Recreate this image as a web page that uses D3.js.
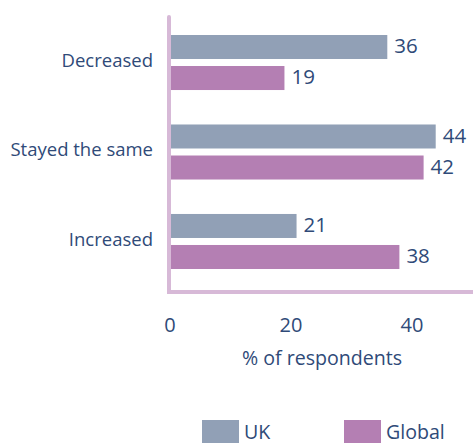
<!DOCTYPE html>
<html>
<head>
<meta charset="utf-8">
<script src="https://cdn.jsdelivr.net/npm/d3@7"></script>
<style>
  html, body { margin: 0; padding: 0; background: #fff; }
  svg { display: block; font-family: "Open Sans", sans-serif; }
</style>
</head>
<body>
<svg id="chart" width="473" height="445"></svg>
<script>
// Responses by category, UK vs global
const categories = ["Decreased", "Stayed the same", "Increased"];
const seriesNames = ["UK", "Global"];
const ukValues = [36, 44, 21];
const globalValues = [19, 42, 38];
const xTicks = [0, 20, 40];

const colors = { UK: "#91a0b6", Global: "#b47fb3" };
const textColor = "#2f4a78";
const axisColor = "#d7b9d7";

const svg = d3.select("#chart");

const x = d3.scaleLinear().domain([0, 50]).range([169.5, 472]);
const y = d3.scaleBand().domain(categories).range([17.1, 286.9]).paddingInner(0.385).paddingOuter(0.2);
const ySub = d3.scaleBand().domain(seriesNames).range([0, y.bandwidth()]).paddingInner(7 / 31);

const rows = categories.map((c, i) => ({ cat: c, UK: ukValues[i], Global: globalValues[i] }));

const groups = svg.selectAll("g.row").data(rows).join("g")
  .attr("class", "row")
  .attr("transform", d => `translate(0,${y(d.cat)})`);

groups.selectAll("rect").data(d => seriesNames.map(s => ({ s, v: d[s] }))).join("rect")
  .attr("x", x(0))
  .attr("y", d => ySub(d.s))
  .attr("width", d => x(d.v) - x(0))
  .attr("height", ySub.bandwidth())
  .attr("fill", d => colors[d.s]);

groups.selectAll("text.val").data(d => seriesNames.map(s => ({ s, v: d[s] }))).join("text")
  .attr("class", "val")
  .attr("x", d => x(d.v) + 7)
  .attr("y", d => ySub(d.s) + ySub.bandwidth() / 2 - 1)
  .attr("dy", "0.36em")
  .attr("font-size", 20.5)
  .attr("fill", textColor)
  .text(d => d.v);

// Category labels
svg.selectAll("text.cat").data(categories).join("text")
  .attr("class", "cat")
  .attr("x", 153)
  .attr("y", d => y(d) + y.bandwidth() / 2 - 2.5)
  .attr("dy", "0.36em")
  .attr("text-anchor", "end")
  .attr("font-size", 18.5)
  .attr("fill", textColor)
  .text(d => d);

// Axis frame lines
svg.append("path")
  .attr("d", `M${x(0) - 0.5},17 V${292} H473`)
  .attr("fill", "none")
  .attr("stroke", axisColor)
  .attr("stroke-width", 4)
  .attr("stroke-linecap", "round");

// X axis tick labels
const xAxis = d3.axisBottom(x).tickValues(xTicks).tickSize(0).tickPadding(0);
const axisG = svg.append("g").attr("transform", "translate(0,318)").call(xAxis);
axisG.select(".domain").remove();
axisG.selectAll("text")
  .attr("font-family", "Open Sans, sans-serif")
  .attr("font-size", 20)
  .attr("fill", textColor);

svg.append("text")
  .attr("x", 322)
  .attr("y", 365)
  .attr("text-anchor", "middle")
  .attr("font-size", 19.6)
  .attr("fill", textColor)
  .text("% of respondents");

// Legend
const legend = svg.append("g");
const legendX = { UK: 202, Global: 344 };
seriesNames.forEach(s => {
  legend.append("rect")
    .attr("x", legendX[s]).attr("y", 420)
    .attr("width", 37).attr("height", 23)
    .attr("fill", colors[s]);
  legend.append("text")
    .attr("x", legendX[s] + 42).attr("y", 432)
    .attr("dy", "0.36em")
    .attr("font-size", 19.6)
    .attr("fill", textColor)
    .text(s);
});
</script>
</body>
</html>
